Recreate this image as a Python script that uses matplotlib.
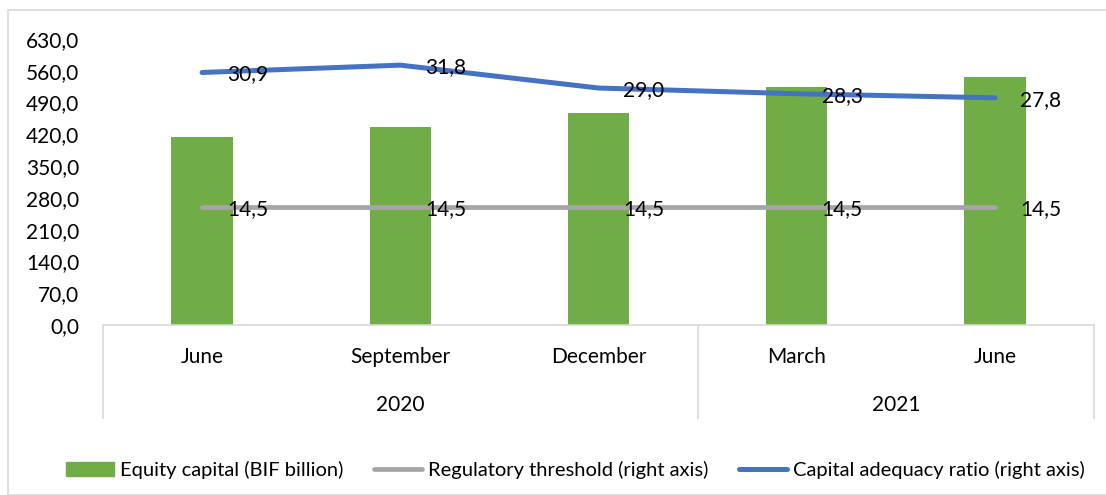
import numpy as np
import matplotlib
matplotlib.use("Agg")
import matplotlib.pyplot as plt
from matplotlib.patches import Rectangle
from matplotlib.lines import Line2D

plt.rcParams['font.family'] = ['Lato', 'DejaVu Sans']
plt.rcParams['font.size'] = 15

# data
months = ["June", "September", "December", "March", "June"]
years = ["2020", "2021"]
year_spans = [(0, 3), (3, 5)]      # category index ranges per year
equity = [415, 437, 467, 524, 546]          # BIF billion (left axis)
threshold = [14.5, 14.5, 14.5, 14.5, 14.5]  # right axis
car = [30.9, 31.8, 29.0, 28.3, 27.8]        # right axis

green = "#70AD47"
grey = "#A5A5A5"
blue = "#4472C4"
frame = "#D9D9D9"

W, H = 1106, 495
fig = plt.figure(figsize=(W / 100, H / 100), dpi=100)

# chart border (cropped in the reference)
fig.patches.append(Rectangle((8 / W, 0), 1.2, 1 - 10 / H, transform=fig.transFigure,
                             fill=False, edgecolor=frame, lw=1.2))

left, right, bottom, top = 103 / W, 1094 / W, 1 - 325 / H, 1 - 39 / H
ax = fig.add_axes([left, bottom, right - left, top - bottom])
ax2 = ax.twinx()

x = np.arange(len(months))
ax.bar(x, equity, width=0.31, color=green, zorder=2)
ax.set_xlim(-0.5, len(months) - 0.5)
ax.set_ylim(0, 630)
ax.set_yticks(np.arange(0, 631, 70))
ax.set_yticklabels([f"{v:.1f}".replace(".", ",") for v in np.arange(0, 631, 70)])
ax.tick_params(axis='y', length=0, pad=17)
ax.set_xticks([])
for s in ["top", "right", "left"]:
    ax.spines[s].set_visible(False)
ax.spines["bottom"].set_color(frame)
ax.spines["bottom"].set_linewidth(1.2)

ax2.set_ylim(0, 35)
ax2.set_yticks([])
for s in ax2.spines.values():
    s.set_visible(False)
ax2.plot(x, threshold, color=grey, lw=3.4, solid_capstyle='round', zorder=3)
ax2.plot(x, car, color=blue, lw=3.6, solid_capstyle='round', solid_joinstyle='round', zorder=4)

for xi, v in zip(x, threshold):
    ax2.annotate(f"{v:.1f}".replace(".", ","), (xi, v), xytext=(18, -1.5),
                 textcoords="offset points", va="center", ha="left", zorder=5)
for xi, v in zip(x, car):
    ax2.annotate(f"{v:.1f}".replace(".", ","), (xi, v), xytext=(18, -1.5),
                 textcoords="offset points", va="center", ha="left", zorder=5)

# category axis: months, years, separators
tr = ax.get_xaxis_transform()
for xi, m in zip(x, months):
    ax.text(xi, -32 / (325 - 39), m, transform=tr, ha="center", va="center")
for (a, b), yr in zip(year_spans, years):
    ax.text((a + b - 1) / 2, -80 / (325 - 39), yr, transform=tr, ha="center", va="center")
for sep in [-0.5, 2.5, 4.5]:
    ax.add_line(Line2D([sep, sep], [0, -93 / (325 - 39)], transform=tr, color=frame,
                       lw=1.2, clip_on=False))

handles = [Rectangle((0, 0), 1, 1, color=green),
           Line2D([], [], color=grey, lw=3.4, solid_capstyle='round'),
           Line2D([], [], color=blue, lw=3.6, solid_capstyle='round')]
labels = ["Equity capital (BIF billion)", "Regulatory threshold (right axis)",
          "Capital adequacy ratio (right axis)"]
fig.legend(handles, labels, loc="center left", bbox_to_anchor=(66 / W, 1 - 470 / H),
           ncol=3, frameon=False, handlelength=2.4, handletextpad=0.3,
           columnspacing=1.5, borderaxespad=0, borderpad=0, fontsize=14.5)

fig.savefig("out.png", dpi=100)
